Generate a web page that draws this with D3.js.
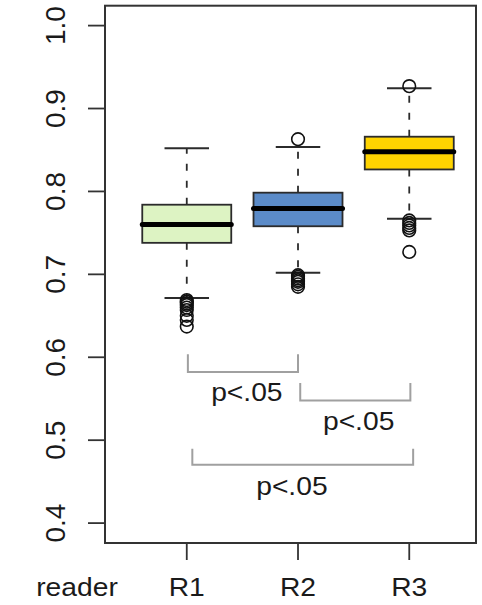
<!DOCTYPE html>
<html>
<head>
<meta charset="utf-8">
<script src="https://cdn.jsdelivr.net/npm/d3@7"></script>
<style>
  html, body { margin: 0; padding: 0; background: #fff; }
  svg { display: block; }
  text { font-family: "Liberation Sans", Arial, Helvetica, sans-serif; fill: #1a1a1a; }
</style>
</head>
<body>
<script>
// ---------------- data ----------------
const categories = ["R1", "R2", "R3"];
const fillColors = ["#DDF3C3", "#5B8BC8", "#FFD400"];
const whiskerLow = [0.6715, 0.702, 0.767];
const q1 = [0.738, 0.758, 0.8265];
const median = [0.760, 0.7795, 0.848];
const q3 = [0.784, 0.7985, 0.866];
const whiskerHigh = [0.852, 0.8535, 0.9245];
const outliers = [
  [0.669, 0.667, 0.665, 0.663, 0.660, 0.657, 0.650, 0.645, 0.637],
  [0.863, 0.699, 0.697, 0.695, 0.693, 0.691, 0.688, 0.685],
  [0.927, 0.765, 0.762, 0.759, 0.756, 0.753, 0.727]
];
const yTicks = [0.4, 0.5, 0.6, 0.7, 0.8, 0.9, 1.0];
const yTickLabels = ["0.4", "0.5", "0.6", "0.7", "0.8", "0.9", "1.0"];
// significance brackets: [from, to] in group positions, top & bottom y, label position
const bracketFrom = [1.01, 2.02, 1.05];
const bracketTo = [2.0, 3.01, 3.035];
const bracketTop = [0.6035, 0.569, 0.4898];
const bracketBottom = [0.5822, 0.548, 0.4703];
const bracketLabelX = [1.54, 2.545, 1.945];
const bracketLabelY = [0.5469, 0.5127, 0.4334];
const bracketLabels = ["p<.05", "p<.05", "p<.05"];
const xAxisTitle = "reader";

// ---------------- layout ----------------
const W = 482, H = 605;
const plot = { left: 105, right: 476, top: 5.7, bottom: 543 };
const boxHalf = 0.4;

const svg = d3.select("body").append("svg").attr("width", W).attr("height", H);

const x = d3.scaleLinear().domain([0.265, 3.6]).range([plot.left, plot.right]);
const y = d3.scaleLinear().domain([0.376, 1.024]).range([plot.bottom, plot.top]);

const ink = "#2b2b2b";

// boxes
categories.forEach((c, i) => {
  const g = svg.append("g");
  const cx = x(i + 1);
  // whiskers (dashed)
  g.append("line").attr("x1", cx).attr("x2", cx).attr("y1", y(q3[i])).attr("y2", y(whiskerHigh[i]))
    .attr("stroke", ink).attr("stroke-width", 1.8).attr("stroke-dasharray", "7,10");
  g.append("line").attr("x1", cx).attr("x2", cx).attr("y1", y(q1[i])).attr("y2", y(whiskerLow[i]))
    .attr("stroke", ink).attr("stroke-width", 1.8).attr("stroke-dasharray", "7,10");
  // staples
  [whiskerHigh[i], whiskerLow[i]].forEach(v => {
    g.append("line").attr("x1", x(i + 1 - boxHalf / 2)).attr("x2", x(i + 1 + boxHalf / 2))
      .attr("y1", y(v)).attr("y2", y(v)).attr("stroke", ink).attr("stroke-width", 2);
  });
  // box
  g.append("rect").attr("x", x(i + 1 - boxHalf)).attr("width", x(i + 1 + boxHalf) - x(i + 1 - boxHalf))
    .attr("y", y(q3[i])).attr("height", y(q1[i]) - y(q3[i]))
    .attr("fill", fillColors[i]).attr("stroke", ink).attr("stroke-width", 1.8);
  // median
  g.append("line").attr("x1", x(i + 1 - boxHalf)).attr("x2", x(i + 1 + boxHalf))
    .attr("y1", y(median[i])).attr("y2", y(median[i]))
    .attr("stroke", "#000").attr("stroke-width", 5).attr("stroke-linecap", "round");
  // outliers
  g.selectAll("circle").data(outliers[i]).join("circle")
    .attr("cx", cx).attr("cy", d => y(d)).attr("r", 6.3)
    .attr("fill", "none").attr("stroke", "#111").attr("stroke-width", 1.6);
});

// frame
svg.append("rect").attr("x", plot.left).attr("y", plot.top)
  .attr("width", plot.right - plot.left).attr("height", plot.bottom - plot.top)
  .attr("fill", "none").attr("stroke", "#333").attr("stroke-width", 2);

// y axis ticks
const yAxisG = svg.append("g");
yTicks.forEach((t, i) => {
  yAxisG.append("line").attr("x1", plot.left - 17).attr("x2", plot.left)
    .attr("y1", y(t)).attr("y2", y(t)).attr("stroke", "#333").attr("stroke-width", 1.8);
  yAxisG.append("text").attr("transform", `translate(65,${y(t)}) rotate(-90)`)
    .attr("text-anchor", "middle").attr("font-size", 28).text(yTickLabels[i]);
});
// x axis ticks
categories.forEach((c, i) => {
  svg.append("line").attr("x1", x(i + 1)).attr("x2", x(i + 1))
    .attr("y1", plot.bottom).attr("y2", plot.bottom + 17).attr("stroke", "#333").attr("stroke-width", 1.8);
  svg.append("text").attr("transform", `translate(${x(i + 1)},596) scale(1.13,1)`)
    .attr("text-anchor", "middle").attr("font-size", 25).text(c);
});
svg.append("text").attr("transform", `translate(77,596) scale(1.13,1)`)
  .attr("text-anchor", "middle").attr("font-size", 25).text(xAxisTitle);

// brackets
bracketFrom.forEach((b, i) => {
  const path = d3.path();
  path.moveTo(x(bracketFrom[i]), y(bracketTop[i]));
  path.lineTo(x(bracketFrom[i]), y(bracketBottom[i]));
  path.lineTo(x(bracketTo[i]), y(bracketBottom[i]));
  path.lineTo(x(bracketTo[i]), y(bracketTop[i]));
  svg.append("path").attr("d", path.toString()).attr("fill", "none")
    .attr("stroke", "#a0a0a0").attr("stroke-width", 2);
  svg.append("text").attr("transform", `translate(${x(bracketLabelX[i])},${y(bracketLabelY[i])}) scale(1.13,1)`)
    .attr("text-anchor", "middle").attr("font-size", 25).text(bracketLabels[i]);
});
</script>
</body>
</html>
